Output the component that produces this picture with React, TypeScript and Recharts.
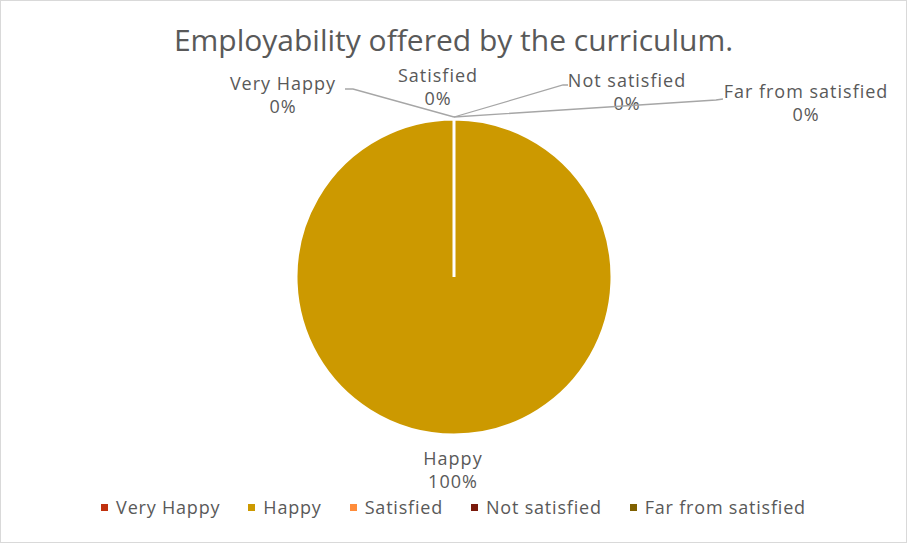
import { Cell, Legend, Pie, PieChart } from 'recharts';

const CATEGORIES = ['Very Happy', 'Happy', 'Satisfied', 'Not satisfied', 'Far from satisfied'];
const RESPONSES = [0, 100, 0, 0, 0];
const COLORS = ['#C0310E', '#CC9900', '#FF8C3A', '#7A1A0C', '#7F6000'];

// label placement relative to the point just above the top of the pie (Excel best-fit)
const LABEL_LAYOUT = [
  { tx: -171, ty: -27, elbow: [-101, -28], end: [-109, -28] },
  { tx: -1, ty: 348, elbow: null, end: null },
  { tx: -16, ty: -35, elbow: null, end: null },
  { tx: 173, ty: -30, elbow: [109, -32], end: [114, -32] },
  { tx: 352, ty: -19, elbow: [262, -17], end: [269, -18] },
];

const data = CATEGORIES.map((name, i) => ({ name, value: RESPONSES[i] }));

const FONT = '"Open Sans", "DejaVu Sans", sans-serif';
const TEXT = '#595959';

function renderLabel(props: any) {
  const { cx, cy, outerRadius, index, name, percent } = props;
  const lay = LABEL_LAYOUT[index];
  const ax = cx;
  const ay = cy - outerRadius - 2;
  const x = ax + lay.tx;
  const y = ay + lay.ty;
  return (
    <g key={`lbl-${index}`}>
      {lay.elbow && lay.end && (
        <polyline
          points={`${ax},${ay} ${ax + lay.elbow[0]},${ay + lay.elbow[1]} ${ax + lay.end[0]},${ay + lay.end[1]}`}
          fill="none"
          stroke="#a6a6a6"
          strokeWidth={1.3}
        />
      )}
      <text x={x} y={y} textAnchor="middle" fill={TEXT} fontSize={18} letterSpacing={1} fontFamily={FONT}>
        <tspan x={x} dy={0}>{name}</tspan>
        <tspan x={x} dy={23}>{`${Math.round(percent * 100)}%`}</tspan>
      </text>
    </g>
  );
}

function LegendContent({ payload }: any) {
  const items = [...(payload || [])].sort(
    (a: any, b: any) => CATEGORIES.indexOf(a.value) - CATEGORIES.indexOf(b.value),
  );
  return (
    <div
      style={{
        display: 'flex',
        justifyContent: 'center',
        gap: 28,
        fontFamily: FONT,
        fontSize: 18,
        letterSpacing: 0.8,
        color: TEXT,
      }}
    >
      {items.map((p: any) => (
        <div key={p.value} style={{ display: 'flex', alignItems: 'center' }}>
          <span style={{ width: 7, height: 7, background: p.color, marginRight: 8, display: 'inline-block' }} />
          <span>{p.value}</span>
        </div>
      ))}
    </div>
  );
}

export default function App() {
  return (
    <div
      style={{
        position: 'fixed',
        left: 0,
        top: 0,
        width: 907,
        height: 543,
        boxSizing: 'border-box',
        border: '1px solid #d9d9d9',
        background: '#fff',
      }}
    >
      <div
        style={{
          position: 'absolute',
          top: 18,
          width: '100%',
          textAlign: 'center',
          fontFamily: FONT,
          fontSize: 30,
          color: TEXT,
        }}
      >
        Employability offered by the curriculum.
      </div>
      <div style={{ position: 'absolute', left: -1, top: -1 }}>
        <PieChart width={907} height={543} margin={{ top: 0, right: 0, bottom: 0, left: 0 }}>
          <Pie
            data={data}
            dataKey="value"
            nameKey="name"
            cx={454}
            cy={277}
            outerRadius={158}
            startAngle={90}
            endAngle={-270}
            stroke="#fff"
            strokeWidth={3}
            label={renderLabel}
            labelLine={false}
            isAnimationActive={false}
          >
            {data.map((d, i) => (
              <Cell key={d.name} fill={COLORS[i]} />
            ))}
          </Pie>
          <Legend
            verticalAlign="bottom"
            content={<LegendContent />}
            wrapperStyle={{ bottom: 24 }}
          />
        </PieChart>
      </div>
    </div>
  );
}
